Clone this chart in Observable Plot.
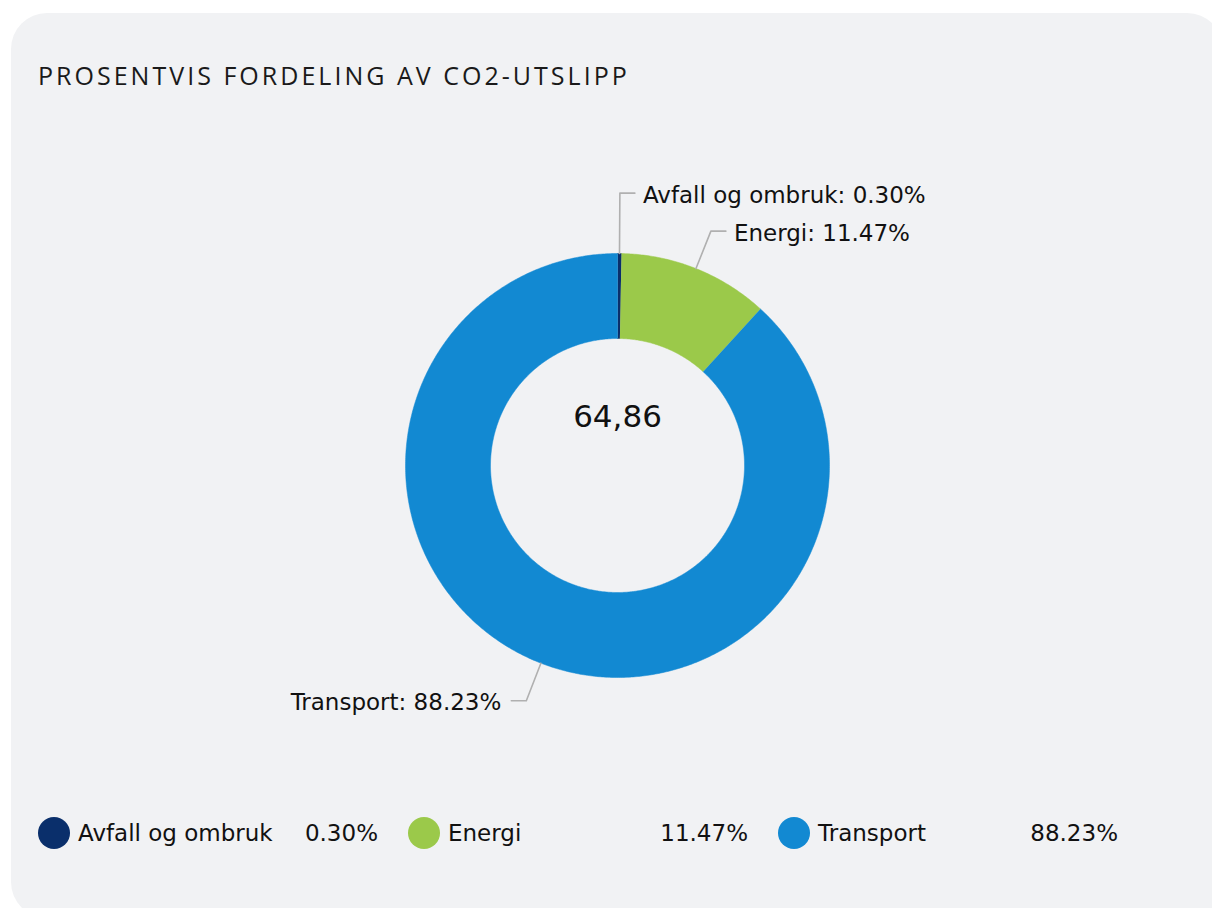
<!DOCTYPE html>
<html>
<head>
<meta charset="utf-8">
<script src="https://cdn.jsdelivr.net/npm/d3@7"></script>
<script src="https://cdn.jsdelivr.net/npm/@observablehq/plot@0.6"></script>
<style>
  html, body { margin: 0; padding: 0; background: #ffffff; }
  #root { position: relative; width: 1212px; height: 908px; overflow: hidden; font-family: "DejaVu Sans", Verdana, sans-serif; color: #111; }
  #card { position: absolute; left: 11px; top: 13px; width: 1212px; height: 905px; background: #f1f2f4; border-radius: 36px; }
  #title { position: absolute; left: 38px; top: 63px; font-family: "Open Sans", sans-serif; font-size: 25px; line-height: 25px; letter-spacing: 3.02px; color: #1a1a1a; white-space: nowrap; }
  #chart { position: absolute; left: 0; top: 110px; }
  #legend { position: absolute; left: 38px; top: 817px; display: flex; gap: 30px; }
  .item { width: 340px; height: 32px; display: flex; align-items: center; font-size: 23px; white-space: nowrap; }
  .dot { width: 32px; height: 32px; border-radius: 50%; margin-right: 8px; flex: none; }
  .name { flex: 1; }
  .val { text-align: right; }
</style>
</head>
<body>
<div id="root">
  <div id="card"></div>
  <div id="title"></div>
  <div id="chart"></div>
  <div id="legend"></div>
</div>
<script>
// ---- data ----
const titleText = "PROSENTVIS FORDELING AV CO2-UTSLIPP";
const names = ["Avfall og ombruk", "Energi", "Transport"];
const shares = [0.30, 11.47, 88.23];          // percent
const colors = ["#0a2f6b", "#9bc94a", "#1289d2"];
const centerLabel = "64,86";

// ---- layout constants ----
const W = 1212, H = 650;
const cx = 617, cy = 355, R = 212;             // donut centre / outer radius (px)
const innerFrac = 127 / 212;                   // inner radius relative to outer
const breakFrac = 1.19;                        // leader-line bend radius
const px = 1 / R;                              // one pixel in data units

document.getElementById("title").textContent = titleText;

// ---- slice geometry from data ----
const total = d3.sum(shares);
let acc = 0;
const slices = names.map((name, i) => {
  const a0 = acc / total * 2 * Math.PI;
  acc += shares[i];
  const a1 = acc / total * 2 * Math.PI;
  return {name, value: shares[i], a0, a1, mid: (a0 + a1) / 2};
});

const polyPts = [];
for (const s of slices) {
  const n = Math.max(2, Math.ceil((s.a1 - s.a0) / (Math.PI / 360)));
  for (let k = 0; k <= n; k++) {
    const a = s.a0 + (s.a1 - s.a0) * k / n;
    polyPts.push({name: s.name, x: Math.sin(a), y: Math.cos(a)});
  }
  for (let k = n; k >= 0; k--) {
    const a = s.a0 + (s.a1 - s.a0) * k / n;
    polyPts.push({name: s.name, x: innerFrac * Math.sin(a), y: innerFrac * Math.cos(a)});
  }
}

// ---- labels with simple collision avoidance ----
const labels = slices.map(s => ({
  name: s.name,
  text: `${s.name}: ${s.value.toFixed(2)}%`,
  side: Math.sin(s.mid) >= 0 ? 1 : -1,
  x0: Math.sin(s.mid), y0: Math.cos(s.mid),
  x1: breakFrac * Math.sin(s.mid), y1: breakFrac * Math.cos(s.mid)
}));
const gap = 38 * px;
for (const side of [1, -1]) {
  const group = labels.filter(l => l.side === side).sort((a, b) => a.y1 - b.y1); // bottom first
  for (let i = 1; i < group.length; i++) {
    if (group[i].y1 < group[i - 1].y1 + gap) group[i].y1 = group[i - 1].y1 + gap;
  }
}
const leaderPts = [];
for (const l of labels) {
  l.x2 = l.x1 + l.side * 15 * px;
  leaderPts.push({name: l.name, x: l.x0, y: l.y0});
  leaderPts.push({name: l.name, x: l.x1, y: l.y1});
  leaderPts.push({name: l.name, x: l.x2, y: l.y1});
}

const chart = Plot.plot({
  width: W, height: H, margin: 0,
  x: {domain: [-1, 1], range: [cx - R, cx + R], axis: null},
  y: {domain: [-1, 1], range: [cy + R, cy - R], axis: null},
  color: {domain: names, range: colors},
  style: {background: "transparent", overflow: "visible", fontFamily: "DejaVu Sans, Verdana, sans-serif"},
  marks: [
    Plot.line(polyPts, {x: "x", y: "y", z: "name", fill: "name", stroke: "name", strokeWidth: 0.5, curve: "linear"}),
    Plot.line(leaderPts, {x: "x", y: "y", z: "name", stroke: "#b0b0b0", strokeWidth: 1.6, curve: "linear"}),
    Plot.text(labels.filter(l => l.side > 0), {x: "x2", y: "y1", text: "text", textAnchor: "start", dx: 8, dy: 2, fontSize: 23, fill: "#111"}),
    Plot.text(labels.filter(l => l.side < 0), {x: "x2", y: "y1", text: "text", textAnchor: "end", dx: -10, dy: 2, fontSize: 23, fill: "#111"}),
    Plot.text([{x: 0, y: 0, t: centerLabel}], {x: "x", y: "y", text: "t", dy: -48, fontSize: 31, fill: "#111"})
  ]
});
document.getElementById("chart").appendChild(chart);

// ---- legend ----
const legend = document.getElementById("legend");
names.forEach((n, i) => {
  const item = document.createElement("div");
  item.className = "item";
  item.innerHTML = `<span class="dot" style="background:${colors[i]}"></span><span class="name"></span><span class="val"></span>`;
  item.querySelector(".name").textContent = n;
  item.querySelector(".val").textContent = shares[i].toFixed(2) + "%";
  legend.appendChild(item);
});
</script>
</body>
</html>
